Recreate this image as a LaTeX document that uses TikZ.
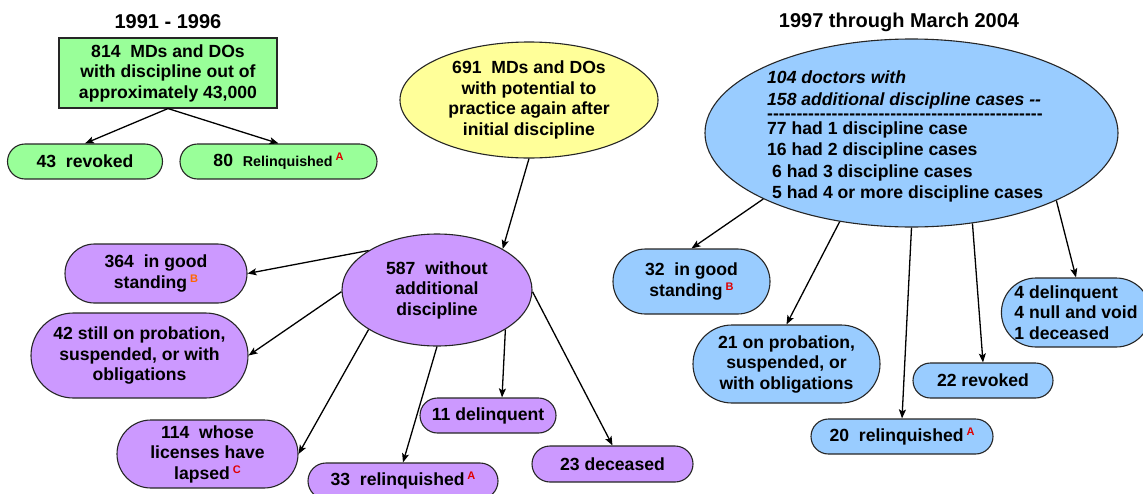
\documentclass[tikz,border=0pt]{standalone}
\usepackage{fontspec}
\setmainfont{Liberation Sans}
\usetikzlibrary{shapes.geometric,shapes.misc,arrows.meta,calc}
\definecolor{grn}{HTML}{99FF99}
\definecolor{yel}{HTML}{FFFF99}
\definecolor{pur}{HTML}{CC99FF}
\definecolor{blu}{HTML}{99CCFF}
\definecolor{redA}{HTML}{E00000}
\definecolor{orgB}{HTML}{FF6600}
\newcommand{\refmk}[2]{\,\raisebox{6pt}{\fontsize{11}{11}\selectfont\color{#1}#2}}
\begin{document}
\begin{tikzpicture}[x=1pt,y=-1pt,
  every node/.style={font=\fontsize{17.6}{20.5}\selectfont\bfseries, inner sep=0pt},
  pill/.style={rounded rectangle, draw=black!85, line width=1.1pt, align=center},
  oval/.style={ellipse, draw=black!85, line width=1.1pt, align=center},
  arr/.style={-{Stealth[length=9pt,width=7pt,inset=2pt]}, line width=1.3pt},
  ttl/.style={font=\fontsize{20}{24}\selectfont\bfseries}]
\useasboundingbox[fill=white] (0,0) rectangle (1143,493);

% titles
\node[ttl] (t1) at (168,22) {1991 - 1996};
\node[ttl] (t2) at (899,22) {1997 through March 2004};

% left group
\node[draw=black!85, line width=1.1pt, fill=grn, minimum width=218pt, minimum height=70pt, align=center] (g814) at (168,73)
  {814~~MDs and DOs\\with discipline out of\\approximately 43,000};
\node[pill, fill=grn, minimum width=155pt, minimum height=35pt] (rev43) at (85,161.5) {43~~revoked};
\node[pill, fill=grn, minimum width=197pt, minimum height=35pt] (rel80) at (278.5,161.5)
  {80~~{\fontsize{14.3}{17}\selectfont Relinquished}\refmk{redA}{A}};

% middle group
\node[oval, fill=yel, minimum width=258pt, minimum height=116pt] (y691) at (529,100)
  {691~~MDs and DOs\\with potential to\\practice again after\\initial discipline};
\node[oval, fill=pur, minimum width=190pt, minimum height=112pt] (p587) at (437,290)
  {587~~without\\additional\\discipline};
\node[pill, fill=pur, minimum width=182pt, minimum height=59pt] (g364) at (156,273.5)
  {364~~in good\\standing\refmk{orgB}{B}};
\node[pill, fill=pur, minimum width=217pt, minimum height=85pt] (p42) at (139.5,355.5)
  {42 still on probation,\\suspended, or with\\obligations};
\node[pill, fill=pur, minimum width=181pt, minimum height=68pt] (l114) at (207.5,454)
  {114~~whose\\licenses have\\lapsed\refmk{redA}{C}};
\node[pill, fill=pur, minimum width=190pt, minimum height=36pt] (r33) at (403,481)
  {33~~relinquished\refmk{redA}{A}};
\node[pill, fill=pur, minimum width=136pt, minimum height=35pt] (d11) at (488,415.5) {11 delinquent};
\node[pill, fill=pur, minimum width=161pt, minimum height=36pt] (d23) at (612.5,464) {23 deceased};

% right group
\node[oval, fill=blu, minimum width=413pt, minimum height=188pt] (b104) at (911.5,133) {};
\node[anchor=west, align=left, font=\fontsize{17.6}{22}\selectfont\bfseries\itshape] (bh) at (767,89.5)
  {104 doctors with\\158 additional discipline cases -{}-};
\node[anchor=base west] (bd) at (767,119.5) {\smash{\foreach \i in {1,...,47}{-}}};
\node[anchor=west, align=left, font=\fontsize{17.6}{21.3}\selectfont\bfseries] (bl) at (767,162)
  {77 had 1 discipline case\\16 had 2 discipline cases\\\hspace{5pt}6 had 3 discipline cases\\\hspace{5pt}5 had 4 or more discipline cases};

\node[pill, fill=blu, minimum width=157pt, minimum height=65pt] (b32) at (691.5,281.5)
  {32~~in good\\standing\refmk{redA}{B}};
\node[pill, fill=blu, minimum width=187pt, minimum height=78pt] (b21) at (786.5,364)
  {21 on probation,\\suspended, or\\with obligations};
\node[pill, fill=blu, minimum width=140pt, minimum height=35pt] (b22) at (983,380.5) {22 revoked};
\node[pill, fill=blu, minimum width=182pt, minimum height=35pt] (b20) at (902,436.5)
  {20~~relinquished\refmk{redA}{A}};
\node[pill, fill=blu, minimum width=148pt, minimum height=69pt, align=left] (b9) at (1076,312.5)
  {4 delinquent\\4 null and void\\1 deceased};

% connectors
\draw[arr] (g814.south) -- (rev43.north);
\draw[arr] (g814.south) -- (rel80.north);
\draw[arr] (y691.south) -- (p587.32);
\draw[arr] (p587.150) -- (g364.east);
\draw[arr] (p587.181) -- (p42.east);
\draw[arr] (p587.210) -- (l114.east);
\draw[arr] (p587.270) -- (r33.north);
\draw[arr] (p587.330) -- ([xshift=14pt]d11.north);
\draw[arr] (p587.359) -- (d23.north);
\draw[arr] (b104.204) -- (b32.north);
\draw[arr] (b104.231) -- (b21.north);
\draw[arr] (b104.270) -- (b20.north);
\draw[arr] (b104.304) -- (b22.north);
\draw[arr] (b104.335) -- (b9.north);
\end{tikzpicture}
\end{document}
